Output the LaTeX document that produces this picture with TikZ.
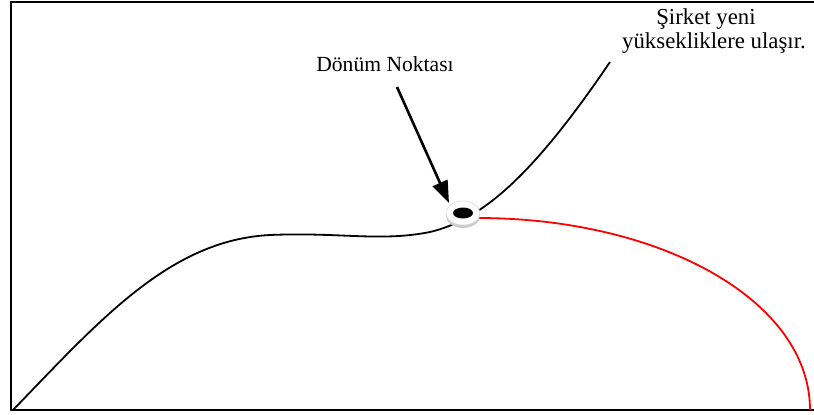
\documentclass[tikz,border=0pt]{standalone}
\usepackage{fontspec}
\setmainfont{Liberation Serif}
\usetikzlibrary{arrows.meta,shapes.geometric}
\begin{document}
\begin{tikzpicture}[x=0.5pt,y=-0.5pt,
  frame/.style={line width=1pt},
  curve/.style={line width=0.9pt},
  lbl/.style={font=\fontsize{10.8}{12}\selectfont, inner sep=0pt, anchor=base},
  lblbig/.style={lbl, font=\fontsize{11.4}{13}\selectfont},
  pointer/.style={line width=1.3pt, -{Triangle[length=11pt,width=8pt]}}]
\useasboundingbox (0,0) rectangle (814,414);
% frame
\draw[frame] (814,2) -- (11,2) -- (11,410) -- (814,410);
% black curve
\draw[curve] (13,410) .. controls (100,320) and (170,240) .. (270,235)
  .. controls (340,232) and (380,242) .. (430,232)
  .. controls (480,220) and (530,180) .. (610,62);
% red curve
\draw[curve, red] (478,218) .. controls (660,218) and (810,300) .. (810,410);
% turning point disk
\fill[gray!40] (463,216) ellipse [x radius=17, y radius=12];
\fill[white] (463,213) ellipse [x radius=17, y radius=12];
\draw[gray!30, line width=0.3pt] (463,213) ellipse [x radius=17, y radius=12];
\node[ellipse, fill=black, minimum width=10pt, minimum height=5.5pt, inner sep=0pt] (turn) at (463,213) {};
% labels
\node[lbl] (lblturn) at (385,71) {Dönüm Noktası};
\node[lblbig] (lblrise1) at (706,24) {Şirket yeni};
\node[lblbig] (lblrise2) at (714,48) {yüksekliklere ulaşır.};
\coordinate (tail) at (397,87);
\coordinate (tip) at (449,203);
\draw[pointer] (tail) -- (tip);
\end{tikzpicture}
\end{document}
